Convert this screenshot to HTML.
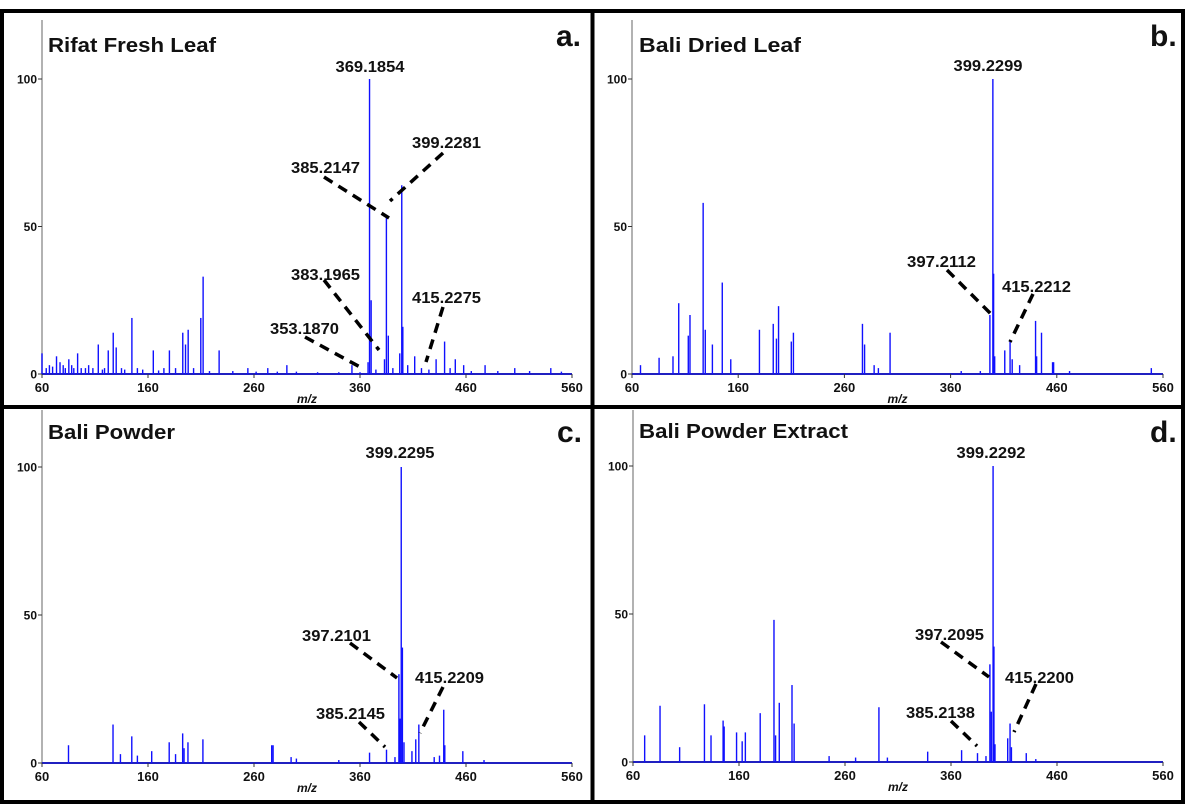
<!DOCTYPE html>
<html><head><meta charset="utf-8"><style>
html,body{margin:0;padding:0;background:#fff;}
svg{display:block;font-family:"Liberation Sans",Arial,sans-serif;}
</style></head><body>
<svg id="fig" width="1200" height="805" viewBox="0 0 1200 805"></svg>
<script>
// Panel a: Rifat Fresh Leaf
const aMz=[60,73.7,85.3,93.6,113.1,122.5,127.2,130,144.8,165,180.2,192.8,195.4,197.9,209.8,212,227.1,254.2,273,291,352.4,367.6,369.0,370.5,383.1,384.9,386.7,397.5,399.4,400.4,411.6,431.8,439.8,449.9,457.8,478,506,540,
 64,67,70,77,80,82,88,90,97,101,104,108,117,119,135,138,150,155,170,175,186,203,218,240,262,282,300,320,340,360,375,391,405,418,425,445,465,490,520,550];
const aInt=[7,6,5,7,10,8,14,9,19,8,8,14,10,15,19,33,8,2,2,3,3,4,100,25,5,53,13,7,64,16,6,5,11,5,3,3,2,2,
 2,3,2.5,4,3,2,3,2,2,2,3,2,1.5,2,2,1.5,2,1.5,1.2,2,2,2,1,1,0.8,0.8,0.8,0.6,0.6,0.6,1.5,2,3,2,1.5,2,1,1,1,0.8];
// Panel b: Bali Dried Leaf
const bMz=[68,85.5,98.6,104,113,114.6,127,129,135.7,145,153,180,193,196,198,210,212,277,279,288,292,303,370,388,397,399.8,400.5,401.5,411,416,418,425,440,441,445.6,456,457,472,549];
const bInt=[3,5.5,6,24,13,20,58,15,10,31,5,15,17,12,23,11,14,17,10,3,2,14,1,1,20,100,34,6,8,11,5,3,18,6,14,4,4,1,2];
// Panel c: Bali Powder
const cMz=[85,127,134,144.7,150,163.5,180,186,192.7,194,197.7,211.8,276.7,278,295,300,340,369,385,393,396.7,397.8,398.9,400,401.5,409,412.6,415.5,430,435,439,440,457,477];
const cInt=[6,13,3,9,2.5,4,7,3,10,5,7,8,6,6,2,1.5,1,3.5,4.5,2,30,15,100,39,7,4,8,13,2,2.5,18,6,4,1];
// Panel d: Bali Powder Extract
const dMz=[71,85.5,104,127.4,133.6,145,146,157.7,163,166,180,193,194.5,198,210,212,245,270,292,300,338,370,385,393,396.7,398,399.7,400.5,401.5,413.5,415.7,417,431,440];
const dInt=[9,19,5,19.5,9,14,12,10,7,10,16.5,48,9,20,26,13,2,1.5,18.5,1.5,3.5,4,3,2,33,17,100,39,6,8,13,5,3,1];
const xTicks=[60,160,260,360,460,560];
const yTicks=[0,50,100];

const svg=document.getElementById('fig');
const NS='http://www.w3.org/2000/svg';
function mk(tag,attrs,parent){const e=document.createElementNS(NS,tag);for(const k in attrs)e.setAttribute(k,attrs[k]);(parent||svg).appendChild(e);return e;}

const panels=[
 {id:'a',mz:aMz,it:aInt,x0:42,x1:572,y0:374,y100:79,top:20,title:'Rifat Fresh Leaf',tx:48,ty:52,tw:168,letter:'a.',lx:556,ly:46,
  labels:[{t:'369.1854',x:370,y:72,c:1},
   {t:'399.2281',x:412,y:148,l:[443,153,390,201]},
   {t:'385.2147',x:291,y:173,l:[324,177,389,218]},
   {t:'383.1965',x:291,y:280,l:[324,280,379,350]},
   {t:'415.2275',x:412,y:303,l:[443,307,426,362]},
   {t:'353.1870',x:270,y:334,l:[305,337,360,367]}]},
 {id:'b',mz:bMz,it:bInt,x0:632,x1:1163,y0:374,y100:79,top:20,title:'Bali Dried Leaf',tx:639,ty:52,tw:162,letter:'b.',lx:1150,ly:46,
  labels:[{t:'399.2299',x:988,y:71,c:1},
   {t:'397.2112',x:907,y:267,l:[947,270,992,315]},
   {t:'415.2212',x:1002,y:292,l:[1033,294,1010,342]}]},
 {id:'c',mz:cMz,it:cInt,x0:42,x1:572,y0:763,y100:467,top:410,title:'Bali Powder',tx:48,ty:439,tw:127,letter:'c.',lx:557,ly:442,
  labels:[{t:'399.2295',x:400,y:458,c:1},
   {t:'397.2101',x:302,y:641,l:[350,643,397,678]},
   {t:'415.2209',x:415,y:683,l:[443,687,420,733]},
   {t:'385.2145',x:316,y:719,l:[359,722,385,747]}]},
 {id:'d',mz:dMz,it:dInt,x0:633,x1:1163,y0:762,y100:466,top:410,title:'Bali Powder Extract',tx:639,ty:438,tw:209,letter:'d.',lx:1150,ly:442,
  labels:[{t:'399.2292',x:991,y:458,c:1},
   {t:'397.2095',x:915,y:640,l:[941,642,989,677]},
   {t:'415.2200',x:1005,y:683,l:[1036,684,1014,732]},
   {t:'385.2138',x:906,y:718,l:[951,721,977,746]}]}
];

panels.forEach(p=>{
  const g=mk('g',{});
  
  
  const X=v=>p.x0+(v-60)/500*(p.x1-p.x0);
  const Y=v=>p.y0-v/100*(p.y0-p.y100);
  const ya=mk('line',{x1:p.x0,y1:p.top,x2:p.x0,y2:p.y0,stroke:'#999','stroke-width':1.5},g);
  
  
  yTicks.forEach(t=>{
    mk('line',{x1:p.x0-4,y1:Y(t),x2:p.x0,y2:Y(t),stroke:'#333','stroke-width':1},g);
    const tl=mk('text',{x:p.x0-5,y:Y(t)+4.5,'text-anchor':'end','font-size':12,'font-weight':'bold',fill:'#111'},g);
    tl.textContent=t;
    
    
  });
  const xa=mk('line',{x1:p.x0,y1:p.y0,x2:p.x1,y2:p.y0,stroke:'#2020c0','stroke-width':2},g);
  
  
  xTicks.forEach(t=>{
    mk('line',{x1:X(t),y1:p.y0,x2:X(t),y2:p.y0+4,stroke:'#333','stroke-width':1},g);
    const tl=mk('text',{x:X(t),y:p.y0+18,'text-anchor':'middle','font-size':13,'font-weight':'bold',fill:'#111'},g);
    tl.textContent=t;
    
    
  });
  const xt=mk('text',{x:(p.x0+p.x1)/2,y:p.y0+29,'text-anchor':'middle','font-size':12,'font-weight':'bold','font-style':'italic',fill:'#111'},g);
  xt.textContent='m/z';
  
  
  p.mz.forEach((m,i)=>{
    const pk=mk('line',{x1:X(m),y1:p.y0,x2:X(m),y2:Y(p.it[i]),stroke:'#1010ff','stroke-width':1.4},g);
    
    
  });
  const ti=mk('text',{x:p.tx,y:p.ty,'font-size':20,'font-weight':'bold',fill:'#111',textLength:p.tw,lengthAdjust:'spacingAndGlyphs'},g);
  ti.textContent=p.title;
  
  
  const le=mk('text',{x:p.lx,y:p.ly,'font-size':30,'font-weight':'bold',fill:'#111'},g);
  le.textContent=p.letter;
  
  
  p.labels.forEach(L=>{
    const t=mk('text',{x:L.x,y:L.y,'text-anchor':L.c?'middle':'start','font-size':16,'font-weight':'bold',fill:'#111',textLength:69,lengthAdjust:'spacingAndGlyphs'},g);
    t.textContent=L.t;
    
    
    if(L.l){
      const ln=mk('line',{x1:L.l[0],y1:L.l[1],x2:L.l[2],y2:L.l[3],stroke:'#000','stroke-width':3.5,'stroke-dasharray':'10,7'},g);
      
      
    }
  });
});
const fr=mk('g',{});


mk('rect',{x:2,y:11,width:1181,height:791,fill:'none',stroke:'#000','stroke-width':4},fr);
mk('line',{x1:592.5,y1:11,x2:592.5,y2:802,stroke:'#000','stroke-width':4},fr);
mk('line',{x1:2,y1:407,x2:1183,y2:407,stroke:'#000','stroke-width':4},fr);
</script>
</body></html>
